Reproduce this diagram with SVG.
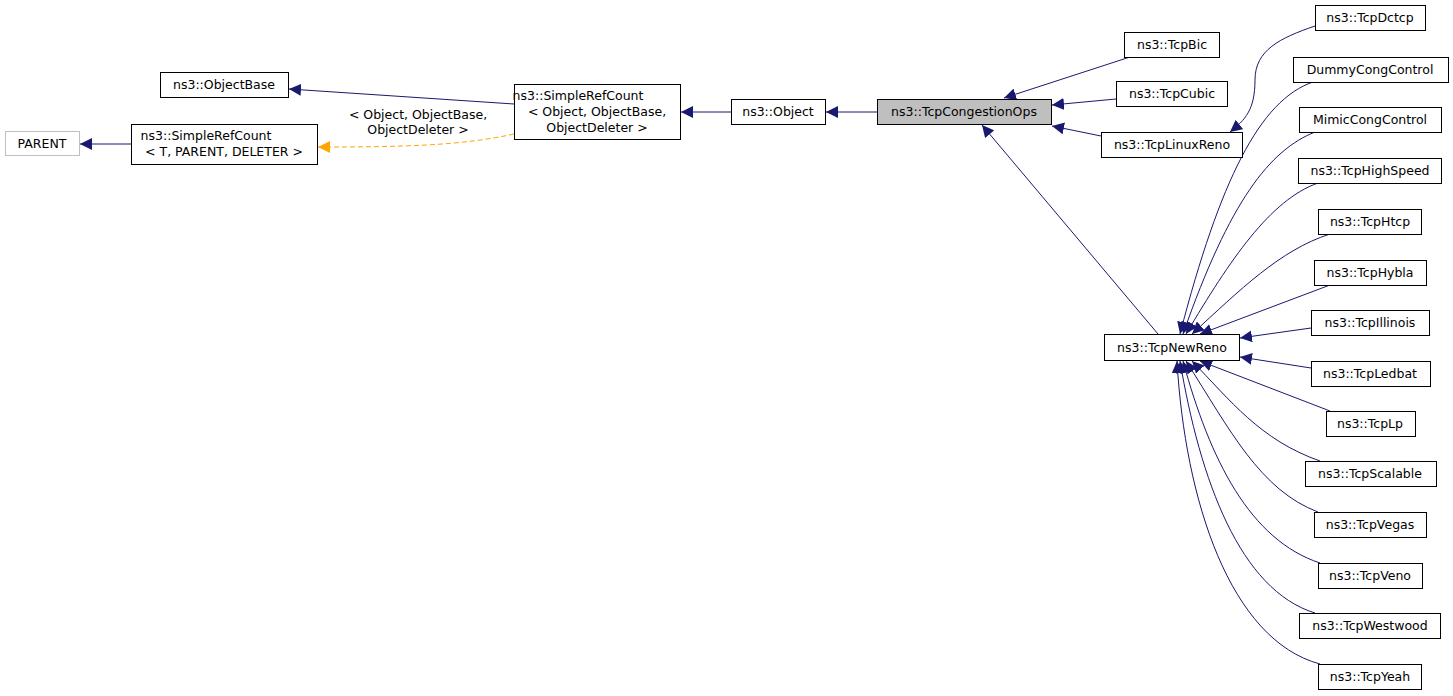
<svg xmlns="http://www.w3.org/2000/svg" width="1453" height="696" viewBox="0 0 1453 696">
<style>
rect{fill:#fff;stroke:#000;stroke-width:1}
text{font-family:"DejaVu Sans",sans-serif;font-size:12.5px;fill:#000;text-anchor:middle}
.e{fill:none;stroke:#191970;stroke-width:1}
.d{fill:none;stroke:#ffa500;stroke-width:1;stroke-dasharray:5,3}
</style>
<defs>
<marker id="a" viewBox="0 0 10 10" refX="10" refY="5" markerWidth="12" markerHeight="12" markerUnits="userSpaceOnUse" orient="auto"><path d="M0,0L10,5L0,10z" fill="#191970"/></marker>
<marker id="o" viewBox="0 0 10 10" refX="10" refY="5" markerWidth="12" markerHeight="12" markerUnits="userSpaceOnUse" orient="auto"><path d="M0,0L10,5L0,10z" fill="#ffa500"/></marker>
</defs>
<g id="edges">
<path class="e" marker-end="url(#a)" d="M131,144H80"/>
<path class="d" marker-end="url(#o)" d="M514,134C460,146 400,147 318,147"/>
<text x="418" y="119">&lt; Object, ObjectBase,</text>
<text x="418" y="134">ObjectDeleter &gt;</text>
<path class="e" marker-end="url(#a)" d="M514,104L289,89"/>
<path class="e" marker-end="url(#a)" d="M731,112H681"/>
<path class="e" marker-end="url(#a)" d="M877,112H826"/>
<path class="e" marker-end="url(#a)" d="M1130,57L1004,98"/>
<path class="e" marker-end="url(#a)" d="M1116,99L1052,105"/>
<path class="e" marker-end="url(#a)" d="M1101,136L1052,126"/>
<path class="e" marker-end="url(#a)" d="M1158,334L982,125"/>
<path class="e" marker-end="url(#a)" d="M1315,26C1280,38 1255,50 1255,80C1255,110 1245,120 1230,132"/>
<path class="e" marker-end="url(#a)" d="M1313,82C1260,100 1220,180 1180,334"/>
<path class="e" marker-end="url(#a)" d="M1315,132C1270,150 1230,200 1183,334"/>
<path class="e" marker-end="url(#a)" d="M1318,183C1270,200 1230,260 1186,334"/>
<path class="e" marker-end="url(#a)" d="M1330,234C1280,250 1240,290 1192,334"/>
<path class="e" marker-end="url(#a)" d="M1330,285L1200,334"/>
<path class="e" marker-end="url(#a)" d="M1311,328L1240,338"/>
<path class="e" marker-end="url(#a)" d="M1311,368L1240,357"/>
<path class="e" marker-end="url(#a)" d="M1330,411L1200,361"/>
<path class="e" marker-end="url(#a)" d="M1320,461C1260,440 1230,400 1192,361"/>
<path class="e" marker-end="url(#a)" d="M1318,512C1260,490 1230,430 1186,361"/>
<path class="e" marker-end="url(#a)" d="M1320,563C1250,540 1210,460 1183,361"/>
<path class="e" marker-end="url(#a)" d="M1315,613C1240,590 1200,480 1180,361"/>
<path class="e" marker-end="url(#a)" d="M1320,664C1230,640 1185,500 1177,361"/>
</g>
<g id="PARENT"><rect x="5.5" y="131.5" width="74" height="24" style="stroke:#bfbfbf"/><text x="42" y="148">PARENT</text></g>
<g id="SRC_T"><rect x="131.5" y="124.5" width="186" height="40"/><text x="206" y="140">ns3::SimpleRefCount</text><text x="224" y="156">&lt; T, PARENT, DELETER &gt;</text></g>
<g id="ObjectBase"><rect x="160.5" y="72.5" width="128" height="25"/><text x="224" y="89">ns3::ObjectBase</text></g>
<g id="SRC_O"><rect x="514.5" y="84.5" width="166" height="55"/><text x="578" y="100">ns3::SimpleRefCount</text><text x="597" y="116">&lt; Object, ObjectBase,</text><text x="597" y="132">ObjectDeleter &gt;</text></g>
<g id="Object"><rect x="731.5" y="99.5" width="94" height="25"/><text x="778" y="116">ns3::Object</text></g>
<g id="TcpCongestionOps"><rect x="877.5" y="99.5" width="174" height="25" style="fill:#bfbfbf"/><text x="964" y="116">ns3::TcpCongestionOps</text></g>
<g id="TcpBic"><rect x="1124.5" y="32.5" width="95" height="25"/><text x="1172" y="49">ns3::TcpBic</text></g>
<g id="TcpCubic"><rect x="1116.5" y="81.5" width="111" height="25"/><text x="1172" y="98">ns3::TcpCubic</text></g>
<g id="TcpLinuxReno"><rect x="1101.5" y="132.5" width="141" height="25"/><text x="1172" y="149">ns3::TcpLinuxReno</text></g>
<g id="TcpNewReno"><rect x="1104.5" y="334.5" width="135" height="26"/><text x="1172" y="352">ns3::TcpNewReno</text></g>
<g id="TcpDctcp"><rect x="1315.5" y="5.5" width="110" height="25"/><text x="1370" y="22">ns3::TcpDctcp</text></g>
<g id="Dummy"><rect x="1293.5" y="57.5" width="155" height="25"/><text x="1370" y="74">DummyCongControl</text></g>
<g id="Mimic"><rect x="1299.5" y="107.5" width="142" height="25"/><text x="1370" y="124">MimicCongControl</text></g>
<g id="HighSpeed"><rect x="1298.5" y="158.5" width="143" height="25"/><text x="1370" y="175">ns3::TcpHighSpeed</text></g>
<g id="Htcp"><rect x="1318.5" y="209.5" width="103" height="25"/><text x="1370" y="226">ns3::TcpHtcp</text></g>
<g id="Hybla"><rect x="1314.5" y="260.5" width="112" height="25"/><text x="1370" y="277">ns3::TcpHybla</text></g>
<g id="Illinois"><rect x="1311.5" y="310.5" width="118" height="25"/><text x="1370" y="327">ns3::TcpIllinois</text></g>
<g id="Ledbat"><rect x="1311.5" y="361.5" width="119" height="25"/><text x="1370" y="378">ns3::TcpLedbat</text></g>
<g id="Lp"><rect x="1326.5" y="411.5" width="89" height="25"/><text x="1370" y="428">ns3::TcpLp</text></g>
<g id="Scalable"><rect x="1305.5" y="461.5" width="131" height="25"/><text x="1370" y="478">ns3::TcpScalable</text></g>
<g id="Vegas"><rect x="1314.5" y="512.5" width="112" height="25"/><text x="1370" y="529">ns3::TcpVegas</text></g>
<g id="Veno"><rect x="1318.5" y="563.5" width="104" height="25"/><text x="1370" y="580">ns3::TcpVeno</text></g>
<g id="Westwood"><rect x="1299.5" y="613.5" width="141" height="25"/><text x="1370" y="630">ns3::TcpWestwood</text></g>
<g id="Yeah"><rect x="1318.5" y="664.5" width="103" height="25"/><text x="1370" y="681">ns3::TcpYeah</text></g>
</svg>
